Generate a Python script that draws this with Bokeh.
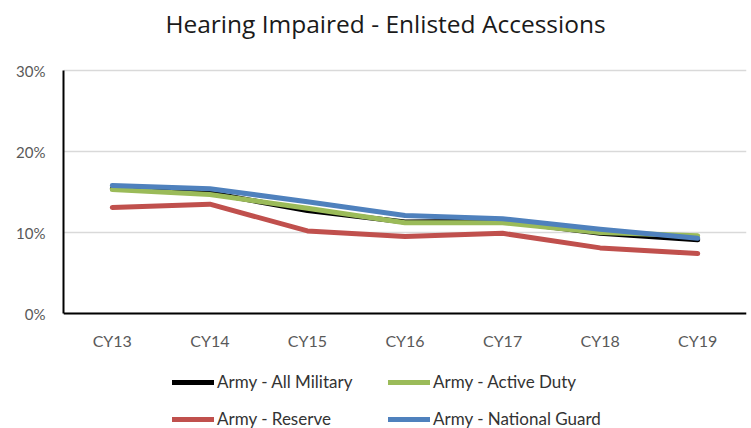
from bokeh.plotting import figure
from bokeh.models import Range1d, FactorRange, NumeralTickFormatter, FixedTicker, Legend, LegendItem, Label
from bokeh.embed import file_html
from bokeh.resources import INLINE

categories = ["CY13", "CY14", "CY15", "CY16", "CY17", "CY18", "CY19"]
all_military = [0.154, 0.149, 0.127, 0.113, 0.114, 0.099, 0.091]
active_duty = [0.153, 0.147, 0.130, 0.112, 0.112, 0.100, 0.096]
reserve = [0.131, 0.135, 0.102, 0.095, 0.099, 0.081, 0.074]
national_guard = [0.158, 0.154, 0.138, 0.121, 0.117, 0.104, 0.093]
y_ticks = [0.0, 0.1, 0.2, 0.3]
title_text = "Hearing Impaired - Enlisted Accessions"

series = [
    ("Army - All Military", all_military, "#000000"),
    ("Army - Active Duty", active_duty, "#9BBB59"),
    ("Army - Reserve", reserve, "#C0504D"),
    ("Army - National Guard", national_guard, "#4F81BD"),
]

FONT = "Lato"
# The frame covers the full figure height so that title, category labels
# and legend all lie inside it (annotations are clipped to the frame).
# 0.3 of value spans 243px; 0% is 115px above the bottom, 30% is 70px below the top.
Y_TOP = 0.3 + 0.3 * 70 / 243
Y_BOTTOM = -0.3 * 115 / 243

p = figure(width=751, height=428, output_backend="svg", toolbar_location=None,
           x_range=FactorRange(*categories, range_padding=0),
           y_range=Range1d(Y_BOTTOM, Y_TOP),
           min_border_left=63, min_border_right=5, min_border_top=0, min_border_bottom=0)

p.outline_line_color = None
p.background_fill_color = "white"
p.border_fill_color = "white"

p.xgrid.grid_line_color = None
p.ygrid.grid_line_color = "#d9d9d9"
p.ygrid.grid_line_width = 1.5
p.ygrid.ticker = FixedTicker(ticks=y_ticks)
p.yaxis.ticker = FixedTicker(ticks=y_ticks)
p.yaxis.formatter = NumeralTickFormatter(format="0%")
p.yaxis.bounds = (0, 0.3)
p.xaxis.fixed_location = 0

for ax in (p.xaxis[0], p.yaxis[0]):
    ax.axis_line_color = "black"
    ax.axis_line_width = 2
    ax.major_tick_line_color = None
    ax.minor_tick_line_color = None
    ax.major_tick_out = 0
    ax.major_tick_in = 0
    ax.major_label_text_font = FONT
    ax.major_label_text_color = "#595959"
p.yaxis.major_label_text_font_size = "15px"
p.xaxis.major_label_text_font_size = "16px"
p.yaxis.major_label_standoff = 18
p.xaxis.major_label_standoff = 17

renderers = {}
for name, vals, color in series:
    renderers[name] = p.line(categories, vals, line_color=color, line_width=5,
                             line_cap="round", line_join="round")

# column-major fill: row 1 = All Military / Active Duty, row 2 = Reserve / National Guard
legend_order = ["Army - All Military", "Army - Reserve", "Army - Active Duty", "Army - National Guard"]
items = [LegendItem(label=n, renderers=[renderers[n]]) for n in legend_order]

legend = Legend(items=items, ncols=2, location=(109, -1),
                glyph_width=42, glyph_height=20, label_standoff=3,
                label_width=155, spacing=16, padding=0, margin=0,
                border_line_alpha=0, background_fill_alpha=0,
                label_text_font=FONT, label_text_font_size="17px", label_text_color="#333333")
p.add_layout(legend, "center")

title = Label(x=322, y=405, x_units="screen", y_units="screen", text=title_text,
              text_align="center", text_baseline="middle",
              text_font="Open Sans", text_font_size="24.5px", text_color="#1a1a1a")
p.add_layout(title)

open("out.html", "w").write(file_html(p, INLINE))
